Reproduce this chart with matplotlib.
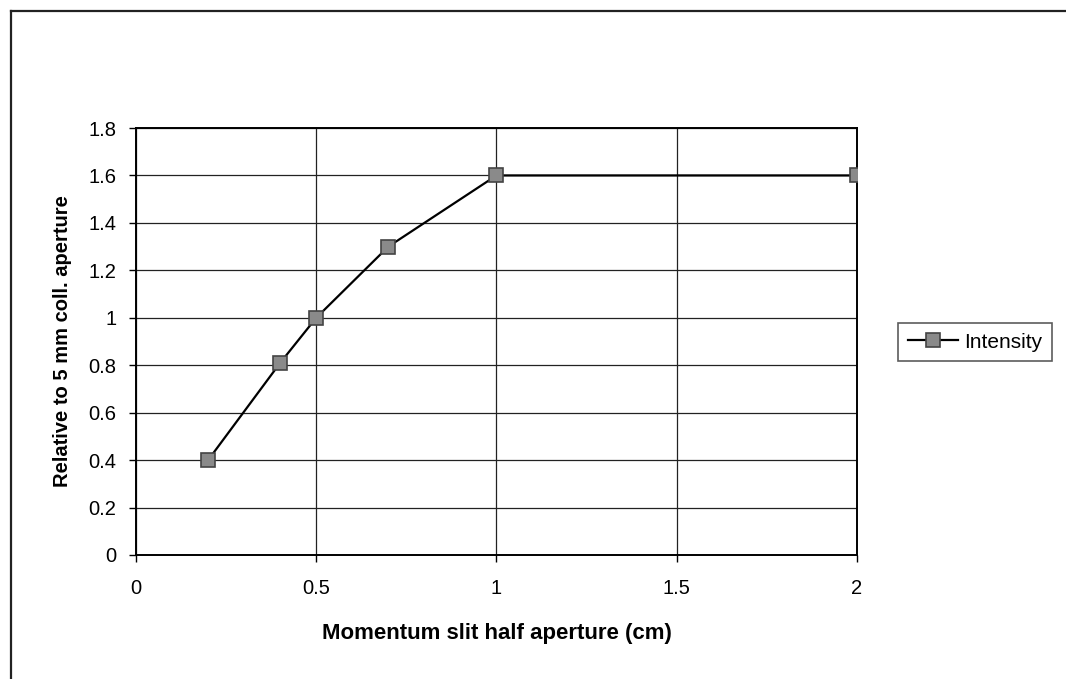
import matplotlib
matplotlib.use("Agg")
import matplotlib.pyplot as plt
from matplotlib.lines import Line2D

plt.rcParams['font.family'] = ['Liberation Sans', 'DejaVu Sans']

x_vals = [0.2, 0.4, 0.5, 0.7, 1.0, 2.0]
intensity = [0.4, 0.81, 1.0, 1.3, 1.6, 1.6]
series_name = "Intensity"
x_ticks = [0, 0.5, 1, 1.5, 2]
x_tick_labels = ["0", "0.5", "1", "1.5", "2"]
y_ticks = [0, 0.2, 0.4, 0.6, 0.8, 1.0, 1.2, 1.4, 1.6, 1.8]
y_tick_labels = ["0", "0.2", "0.4", "0.6", "0.8", "1", "1.2", "1.4", "1.6", "1.8"]

fig = plt.figure(figsize=(10.66, 6.79), dpi=100)
ax = fig.add_axes([136/1066, 1-555/679, (857-136)/1066, (555-128)/679])

ax.plot(x_vals, intensity, color='black', lw=1.6, marker='s', markersize=10,
        markerfacecolor='#8a8a8a', markeredgecolor='#444444', markeredgewidth=1.2,
        label=series_name, zorder=3)

ax.set_xlim(0, 2)
ax.set_ylim(0, 1.8)
ax.set_xticks(x_ticks)
ax.set_xticklabels(x_tick_labels)
ax.set_yticks(y_ticks)
ax.set_yticklabels(y_tick_labels)
ax.grid(True, color='#222222', lw=0.9)
ax.set_axisbelow(True)
for s in ax.spines.values():
    s.set_color('black')
    s.set_linewidth(1.4)
ax.tick_params(direction='out', length=5, width=1, labelsize=14.5, colors='black', pad=9)
ax.tick_params(axis='x', pad=12)

ax.set_xlabel("Momentum slit half aperture (cm)", fontsize=16, fontweight='bold', labelpad=18)
ax.set_ylabel("Relative to 5 mm coll. aperture", fontsize=14.5, fontweight='bold', labelpad=12)

leg = fig.legend(loc='center', bbox_to_anchor=(975/1066, 1-342/679), frameon=True,
                 fancybox=False, edgecolor='#333333', fontsize=15, handlelength=2.4,
                 borderpad=0.45, handletextpad=0.3)
leg.get_frame().set_linewidth(1.2)

fig.add_artist(Line2D([11/1066, 11/1066], [0, 1-11/679], color='#222222', lw=1.6, transform=fig.transFigure))
fig.add_artist(Line2D([11/1066, 1], [1-11/679, 1-11/679], color='#222222', lw=1.6, transform=fig.transFigure))

fig.savefig("out.png", dpi=100)
